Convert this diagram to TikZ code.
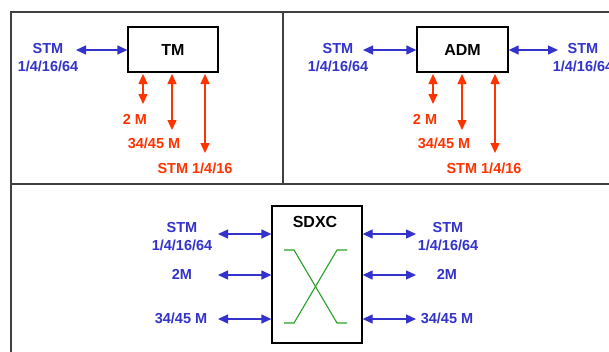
\documentclass[tikz,border=0pt]{standalone}
\usepackage{fontspec}
\setmainfont{Liberation Sans}
\usetikzlibrary{arrows.meta}
\definecolor{cblue}{RGB}{51,51,204}
\definecolor{cred}{RGB}{255,51,0}
\definecolor{cgreen}{RGB}{40,160,40}
\definecolor{cframe}{RGB}{64,64,64}
\begin{document}
\begin{tikzpicture}[x=1pt,y=-1pt,
  lbl/.style={font=\fontsize{14.5}{18}\selectfont\bfseries, inner sep=0pt, align=center},
  blbl/.style={lbl, text=cblue},
  rlbl/.style={lbl, text=cred},
  box/.style={draw=black, line width=1.3pt, fill=white, inner sep=0pt, font=\fontsize{16}{18}\selectfont\bfseries},
  tip/.tip={Triangle[length=10pt,width=9pt]},
  barrow/.style={draw=cblue, line width=1.3pt, tip-tip},
  rarrow/.style={draw=cred, line width=1.3pt, tip-tip},
  frame/.style={draw=cframe, line width=2pt},
  xline/.style={draw=cgreen, line width=1.1pt}]
\useasboundingbox (0,0) rectangle (609,351);
\clip (0,0) rectangle (609,351);
\fill[white] (0,0) rectangle (609,351);
% frame
\draw[frame] (11,12) rectangle (614,356);
\draw[frame] (11,184) -- (614,184);
\draw[frame] (283,12) -- (283,184);

% ---------- TM ----------
\node[box, minimum width=90pt, minimum height=45pt] (tm) at (173,49.5) {TM};
\node[blbl] (tmin) at (48,58) {STM\\1/4/16/64};
\coordinate (tmA) at (76,50);
\draw[barrow] (tmA) -- (tm.west |- tmA);
\coordinate (tm1s) at (143,74);
\coordinate (tm1e) at (143,104);
\coordinate (tm2s) at (172,74);
\coordinate (tm2e) at (172,130);
\coordinate (tm3s) at (205,74);
\coordinate (tm3e) at (205,153);
\draw[rarrow] (tm1s) -- (tm1e);
\draw[rarrow] (tm2s) -- (tm2e);
\draw[rarrow] (tm3s) -- (tm3e);
\node[rlbl] (tm1l) at (135,119) {2 M};
\node[rlbl] (tm2l) at (154,143) {34/45 M};
\node[rlbl] (tm3l) at (195,168) {STM 1/4/16};

% ---------- ADM ----------
\node[box, minimum width=91pt, minimum height=45pt] (adm) at (462.5,49.5) {ADM};
\node[blbl] (admin) at (338,58) {STM\\1/4/16/64};
\node[blbl] (admout) at (583,58) {STM\\1/4/16/64};
\coordinate (admA) at (363,50);
\coordinate (admB) at (558,50);
\draw[barrow] (admA) -- (adm.west |- admA);
\draw[barrow] (adm.east |- admB) -- (admB);
\coordinate (adm1s) at (433,74);
\coordinate (adm1e) at (433,104);
\coordinate (adm2s) at (462,74);
\coordinate (adm2e) at (462,130);
\coordinate (adm3s) at (495,74);
\coordinate (adm3e) at (495,153);
\draw[rarrow] (adm1s) -- (adm1e);
\draw[rarrow] (adm2s) -- (adm2e);
\draw[rarrow] (adm3s) -- (adm3e);
\node[rlbl] (adm1l) at (425,119) {2 M};
\node[rlbl] (adm2l) at (444,143) {34/45 M};
\node[rlbl] (adm3l) at (484,168) {STM 1/4/16};

% ---------- SDXC ----------
\node[box, minimum width=90pt, minimum height=137pt] (sdxc) at (317,274.5) {};
\node[lbl, font=\fontsize{16}{18}\selectfont\bfseries] (sdxct) at (315,222) {SDXC};
\coordinate (xa) at (284,250);
\coordinate (xb) at (294,250);
\coordinate (xc) at (337,323);
\coordinate (xd) at (347,323);
\coordinate (xe) at (284,323);
\coordinate (xf) at (294,323);
\coordinate (xg) at (337,250);
\coordinate (xh) at (347,250);
\draw[xline] (xa) -- (xb) -- (xc) -- (xd);
\draw[xline] (xe) -- (xf) -- (xg) -- (xh);

\coordinate (sl1) at (218,234);
\coordinate (sl2) at (218,275);
\coordinate (sl3) at (218,319);
\coordinate (sr1) at (416,234);
\coordinate (sr2) at (416,275);
\coordinate (sr3) at (416,319);
\draw[barrow] (sl1) -- (sdxc.west |- sl1);
\draw[barrow] (sl2) -- (sdxc.west |- sl2);
\draw[barrow] (sl3) -- (sdxc.west |- sl3);
\draw[barrow] (sdxc.east |- sr1) -- (sr1);
\draw[barrow] (sdxc.east |- sr2) -- (sr2);
\draw[barrow] (sdxc.east |- sr3) -- (sr3);
\node[blbl] (sll1) at (182,237) {STM\\1/4/16/64};
\node[blbl] (sll2) at (182,274) {2M};
\node[blbl] (sll3) at (181,318) {34/45 M};
\node[blbl] (srl1) at (448,237) {STM\\1/4/16/64};
\node[blbl] (srl2) at (447,274) {2M};
\node[blbl] (srl3) at (447,318) {34/45 M};
\end{tikzpicture}
\end{document}
